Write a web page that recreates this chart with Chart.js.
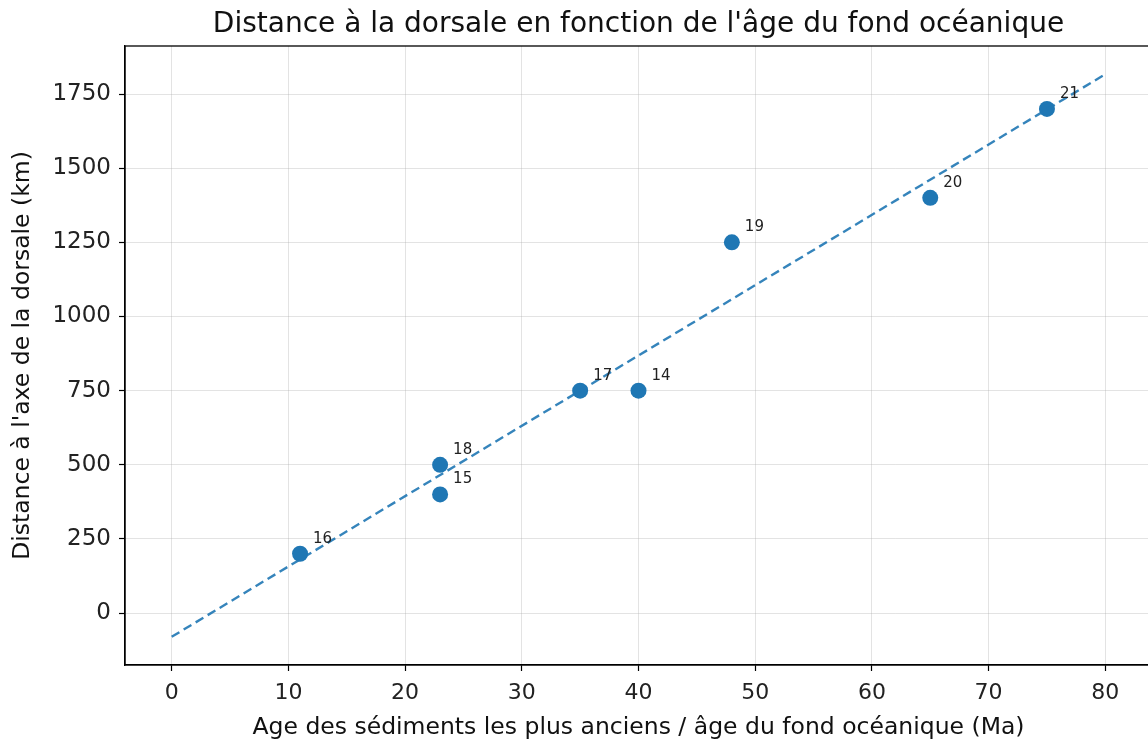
<!DOCTYPE html>
<html>
<head>
<meta charset="utf-8">
<script src="https://cdn.jsdelivr.net/npm/chart.js@4"></script>
<style>
  html, body { margin: 0; padding: 0; background: #fff; overflow: hidden; }
  #wrap { width: 1160px; height: 740px; }
</style>
</head>
<body>
<div id="wrap"><canvas id="myChart" width="1160" height="740"></canvas></div>
<script>
// donnees
var ages = [11, 23, 23, 35, 40, 48, 65, 75];
var distances = [200, 500, 400, 750, 750, 1250, 1400, 1700];
var ids = ['16', '18', '15', '17', '14', '19', '20', '21'];

// droite de regression (extremites)
var fit_x = [0, 80];
var fit_y = [-80, 1817];

var x_ticks = [0, 10, 20, 30, 40, 50, 60, 70, 80];
var y_ticks = [0, 250, 500, 750, 1000, 1250, 1500, 1750];

var title_text = "Distance à la dorsale en fonction de l'âge du fond océanique";

var blue = '#1f77b4';
var font_family = "'DejaVu Sans', sans-serif";

var points = [];
for (var i = 0; i < ages.length; i++) {
  points.push({x: ages[i], y: distances[i]});
}
var fit = [];
for (var i = 0; i < fit_x.length; i++) {
  fit.push({x: fit_x[i], y: fit_y[i]});
}

// titre centre sur la zone du graphe, cadre complet, etiquettes des points
var extras = {
  id: 'extras',
  afterDatasetsDraw: function(chart) {
    var ctx = chart.ctx;
    var a = chart.chartArea;
    var meta = chart.getDatasetMeta(1);
    ctx.save();
    ctx.font = '15px ' + font_family;
    ctx.fillStyle = '#222';
    ctx.textAlign = 'left';
    ctx.textBaseline = 'alphabetic';
    for (var i = 0; i < meta.data.length; i++) {
      var p = meta.data[i];
      ctx.fillText(ids[i], p.x + 13, p.y - 11);
    }
    ctx.strokeStyle = '#000';
    ctx.lineWidth = 1.3;
    ctx.strokeRect(a.left, a.top, a.right - a.left, a.bottom - a.top);

    ctx.font = '28px ' + font_family;
    ctx.fillStyle = '#111';
    ctx.textAlign = 'center';
    ctx.textBaseline = 'middle';
    ctx.fillText(title_text, (a.left + a.right) / 2, 25);
    ctx.restore();
  }
};

var ctx = document.getElementById('myChart').getContext('2d');
var chart = new Chart(ctx, {
  type: 'scatter',
  data: {
    datasets: [
      {
        type: 'line',
        data: fit,
        borderColor: 'rgba(31,119,180,0.9)',
        borderWidth: 2.4,
        borderDash: [9, 5],
        pointRadius: 0,
        fill: false,
        order: 0
      },
      {
        data: points,
        backgroundColor: blue,
        borderWidth: 0,
        pointRadius: 8,
        pointHoverRadius: 8,
        order: 1
      }
    ]
  },
  options: {
    responsive: false,
    animation: false,
    events: [],
    layout: { padding: { left: 0, right: 5, top: 46, bottom: 0 } },
    plugins: {
      legend: { display: false },
      tooltip: { enabled: false },
      title: { display: false }
    },
    scales: {
      x: {
        type: 'linear',
        min: -4,
        max: 84,
        afterFit: function(s) { s.height = 75; },
        afterBuildTicks: function(s) {
          s.ticks = x_ticks.map(function(v) { return {value: v}; });
        },
        ticks: {
          color: '#222',
          font: { family: font_family, size: 22 },
          padding: 9,
          maxRotation: 0,
          autoSkip: false,
          callback: function(v) { return String(v); }
        },
        grid: {
          color: 'rgba(176,176,176,0.35)',
          lineWidth: 1,
          tickColor: '#000',
          tickLength: 6,
          tickWidth: 1.2
        },
        border: { color: '#000', width: 1.3 },
        title: {
          display: true,
          text: 'Age des sédiments les plus anciens / âge du fond océanique (Ma)',
          color: '#111',
          font: { family: font_family, size: 23.5 },
          padding: { top: 0, bottom: -2 }
        }
      },
      y: {
        type: 'linear',
        min: -175,
        max: 1912,
        afterFit: function(s) { s.width = 125; },
        afterBuildTicks: function(s) {
          s.ticks = y_ticks.map(function(v) { return {value: v}; });
        },
        ticks: {
          color: '#222',
          font: { family: font_family, size: 23 },
          padding: 8,
          autoSkip: false,
          callback: function(v) { return String(v); }
        },
        grid: {
          color: 'rgba(176,176,176,0.35)',
          lineWidth: 1,
          tickColor: '#000',
          tickLength: 6,
          tickWidth: 1.2
        },
        border: { color: '#000', width: 1.3 },
        title: {
          display: true,
          text: "Distance à l'axe de la dorsale (km)",
          color: '#111',
          font: { family: font_family, size: 23.5 },
          padding: { top: 9, bottom: 0 }
        }
      }
    }
  },
  plugins: [extras]
});
</script>
</body>
</html>
